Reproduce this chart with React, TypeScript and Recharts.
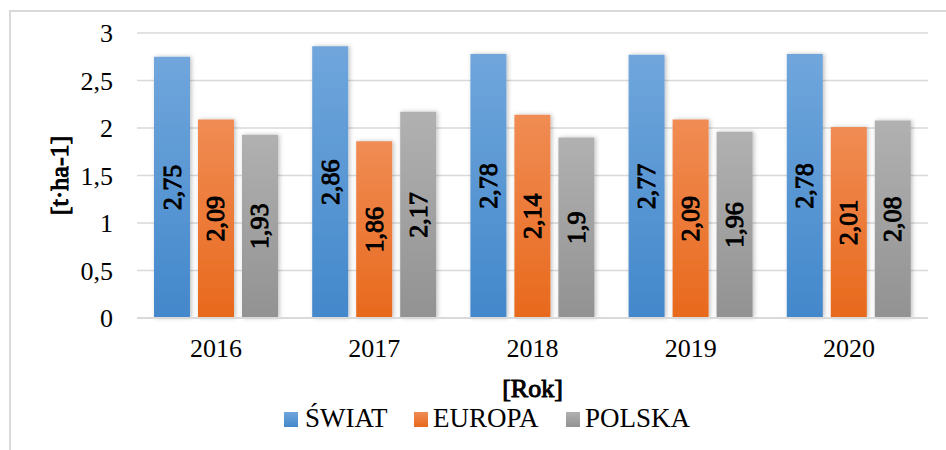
import React from "react";
import { BarChart, Bar, XAxis, YAxis, CartesianGrid, LabelList } from "recharts";

const YEARS = ["2016", "2017", "2018", "2019", "2020"];
const SWIAT = [2.75, 2.86, 2.78, 2.77, 2.78];
const EUROPA = [2.09, 1.86, 2.14, 2.09, 2.01];
const POLSKA = [1.93, 2.17, 1.9, 1.96, 2.08];
const Y_TICKS = [0, 0.5, 1, 1.5, 2, 2.5, 3];

const SERIES = [
  { key: "swiat", name: "ŚWIAT", top: "#70a6dc", bottom: "#4388cb" },
  { key: "europa", name: "EUROPA", top: "#f08c54", bottom: "#e8691c" },
  { key: "polska", name: "POLSKA", top: "#b1b1b1", bottom: "#929292" },
];
const LEGEND_X = [284, 414, 566];

const data = YEARS.map((year, i) => ({
  year,
  swiat: SWIAT[i],
  europa: EUROPA[i],
  polska: POLSKA[i],
}));

// only the regular Liberation Serif is installed, bold is faked with a stroke
const FONT = "'Liberation Serif', 'Times New Roman', serif";
const BOLD = { fontFamily: FONT, fontSize: 26, fill: "#000", stroke: "#000", strokeWidth: 1 };
const fmt = (v: number) => String(v).replace(".", ",");

const VerticalLabel = (props: any) => {
  const { x, y, width, height, value } = props;
  const cx = x + width / 2;
  const cy = y + height / 2;
  return (
    <text
      x={cx}
      y={cy}
      transform={`rotate(-90, ${cx}, ${cy})`}
      textAnchor="middle"
      dominantBaseline="central"
      {...BOLD}
    >
      {fmt(value)}
    </text>
  );
};

const YTitle = (props: any) => {
  const vb = props.viewBox;
  const cx = vb.x + 59;
  const cy = vb.y + vb.height / 2;
  return (
    <text
      x={cx}
      y={cy}
      transform={`rotate(-90, ${cx}, ${cy})`}
      textAnchor="middle"
      dominantBaseline="central"
      {...BOLD}
    >
      [t·ha-1]
    </text>
  );
};

const XTitle = (props: any) => {
  const vb = props.viewBox;
  return (
    <text x={vb.x + vb.width / 2} y={vb.y + 79} textAnchor="middle" {...BOLD}>
      [Rok]
    </text>
  );
};

export default function App() {
  return (
    <div
      style={{
        position: "absolute",
        left: 0,
        top: 0,
        width: 946,
        height: 450,
        overflow: "hidden",
        background: "#fff",
        fontFamily: FONT,
      }}
    >
      <div
        style={{
          position: "absolute",
          left: 9,
          top: 10,
          width: 960,
          height: 470,
          border: "2px solid #d9d9d9",
        }}
      />
      <BarChart
        width={946}
        height={450}
        data={data}
        margin={{ top: 33, right: 18, left: 0, bottom: 32 }}
        barSize={36}
        barGap={8}
        style={{ position: "absolute", left: 0, top: 0 }}
      >
        <defs>
          {SERIES.map((s) => (
            <linearGradient key={s.key} id={`grad-${s.key}`} x1="0" y1="0" x2="0" y2="1">
              <stop offset="0%" stopColor={s.top} />
              <stop offset="100%" stopColor={s.bottom} />
            </linearGradient>
          ))}
          <filter id="bar-shadow" x="-30%" y="-10%" width="160%" height="120%">
            <feDropShadow dx="1.5" dy="0" stdDeviation="2" floodColor="#000" floodOpacity="0.25" />
          </filter>
        </defs>
        <CartesianGrid vertical={false} stroke="#d9d9d9" strokeWidth={1.5} />
        <XAxis
          dataKey="year"
          height={100}
          axisLine={{ stroke: "#d9d9d9", strokeWidth: 2 }}
          tickLine={false}
          tickMargin={15}
          tick={{ fontFamily: FONT, fontSize: 26, fill: "#000" }}
          label={<XTitle />}
        />
        <YAxis
          width={137}
          domain={[0, 3]}
          ticks={Y_TICKS}
          axisLine={false}
          tickLine={false}
          tickMargin={18}
          tickFormatter={fmt}
          tick={{ fontFamily: FONT, fontSize: 26, fill: "#000" }}
          label={<YTitle />}
        />
        {SERIES.map((s) => (
          <Bar
            key={s.key}
            dataKey={s.key}
            name={s.name}
            fill={`url(#grad-${s.key})`}
            filter="url(#bar-shadow)"
            isAnimationActive={false}
          >
            <LabelList dataKey={s.key} content={<VerticalLabel />} />
          </Bar>
        ))}
      </BarChart>
      {SERIES.map((s, i) => (
        <div
          key={s.key}
          style={{
            position: "absolute",
            left: LEGEND_X[i],
            top: 402,
            height: 32,
            display: "flex",
            alignItems: "center",
            fontSize: 27,
            color: "#000",
            whiteSpace: "nowrap",
          }}
        >
          <div
            style={{
              width: 14,
              height: 15,
              background: `linear-gradient(${s.top}, ${s.bottom})`,
              marginRight: i === 0 ? 7 : 5,
              marginTop: 3,
            }}
          />
          <span>{s.name}</span>
        </div>
      ))}
    </div>
  );
}
